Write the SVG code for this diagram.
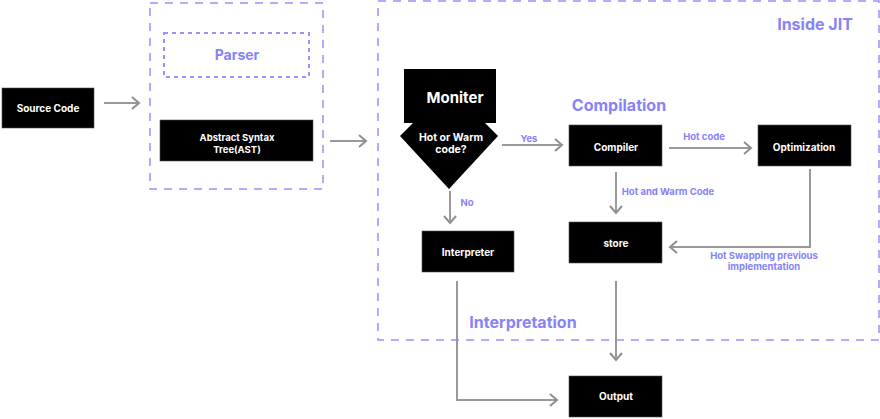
<svg xmlns="http://www.w3.org/2000/svg" width="880" height="419" viewBox="0 0 880 419">
<defs>
<marker id="chev" markerWidth="12" markerHeight="14" refX="10" refY="7" orient="auto" markerUnits="userSpaceOnUse">
<path d="M3,1 L10,7 L3,13" fill="none" stroke="#8f8f8f" stroke-width="2"/>
</marker>
</defs>
<style>
.frame{fill:none;stroke:#9592ff;stroke-width:1.5;stroke-dasharray:8 7}
.inner{fill:none;stroke:#9592ff;stroke-width:2;stroke-dasharray:4 4}
.box{fill:#000;stroke:#555;stroke-width:0.6}
.t{font-family:Inter,"Liberation Sans",sans-serif;font-weight:700;fill:#fff;font-size:10px;text-anchor:middle}
.h{font-family:Inter,"Liberation Sans",sans-serif;font-weight:700;fill:#8583f7;text-anchor:middle}
.l{font-family:Inter,"Liberation Sans",sans-serif;font-weight:700;fill:#8583f7;font-size:9.5px;text-anchor:middle}
.c{fill:none;stroke:#999;stroke-width:2;marker-end:url(#chev)}
</style>
<rect width="880" height="419" fill="#fff"/>
<g id="parser-frame">
<rect class="frame" x="150" y="3" width="173" height="186"/>
<rect class="inner" x="164" y="33" width="145" height="44"/>
<text class="h" x="237" y="60" style="font-size:14px">Parser</text>
</g>
<g id="jit-frame">
<rect class="frame" x="378" y="1" width="501" height="339"/>
<text class="h" x="815" y="30" style="font-size:16px">Inside JIT</text>
<text class="h" x="619" y="111" style="font-size:16px">Compilation</text>
<text class="h" x="523" y="328" style="font-size:16px">Interpretation</text>
</g>
<g id="connectors">
<line class="c" x1="104" y1="103" x2="139" y2="103"/>
<line class="c" x1="330" y1="141" x2="366" y2="141"/>
<line class="c" x1="502" y1="145" x2="562" y2="145"/>
<line class="c" x1="669" y1="148" x2="751" y2="148"/>
<line class="c" x1="616" y1="172" x2="616" y2="213"/>
<polyline class="c" points="810,169 810,247 670,247"/>
<line class="c" x1="450" y1="191" x2="450" y2="223"/>
<polyline class="c" points="457,281 457,400 557,400"/>
<line class="c" x1="616" y1="281" x2="616" y2="360"/>
<text class="l" x="529" y="142">Yes</text>
<text class="l" x="704" y="140">Hot code</text>
<text class="l" x="668" y="195">Hot and Warm Code</text>
<text class="l" x="764" y="259">Hot Swapping previous</text>
<text class="l" x="764" y="270">implementation</text>
<text class="l" x="467" y="206">No</text>
</g>
<g id="source-code">
<rect class="box" x="2" y="88" width="92" height="40"/>
<text class="t" x="48" y="112">Source Code</text>
</g>
<g id="ast">
<rect class="box" x="160" y="120" width="153" height="41"/>
<text class="t" x="237" y="141" style="font-size:9.5px">Abstract Syntax</text>
<text class="t" x="237" y="153" style="font-size:9.5px">Tree(AST)</text>
</g>
<g id="moniter">
<polygon points="400,136 449,87 498,136 449,189" fill="#000"/>
<rect x="404" y="69" width="92" height="54" fill="#000"/>
<text class="t" x="455" y="103" style="font-size:15px">Moniter</text>
<text class="t" x="451" y="141" style="font-size:10.5px">Hot or Warm</text>
<text class="t" x="451" y="153" style="font-size:10.5px">code?</text>
</g>
<g id="compiler">
<rect class="box" x="569" y="125" width="93" height="41"/>
<text class="t" x="616" y="151">Compiler</text>
</g>
<g id="optimization">
<rect class="box" x="758" y="125" width="93" height="41"/>
<text class="t" x="804" y="151">Optimization</text>
</g>
<g id="store">
<rect class="box" x="569" y="222" width="93" height="41"/>
<text class="t" x="616" y="247">store</text>
</g>
<g id="interpreter">
<rect class="box" x="422" y="231" width="92" height="41"/>
<text class="t" x="468" y="256">Interpreter</text>
</g>
<g id="output">
<rect class="box" x="569" y="376" width="93" height="41"/>
<text class="t" x="616" y="400">Output</text>
</g>
</svg>
